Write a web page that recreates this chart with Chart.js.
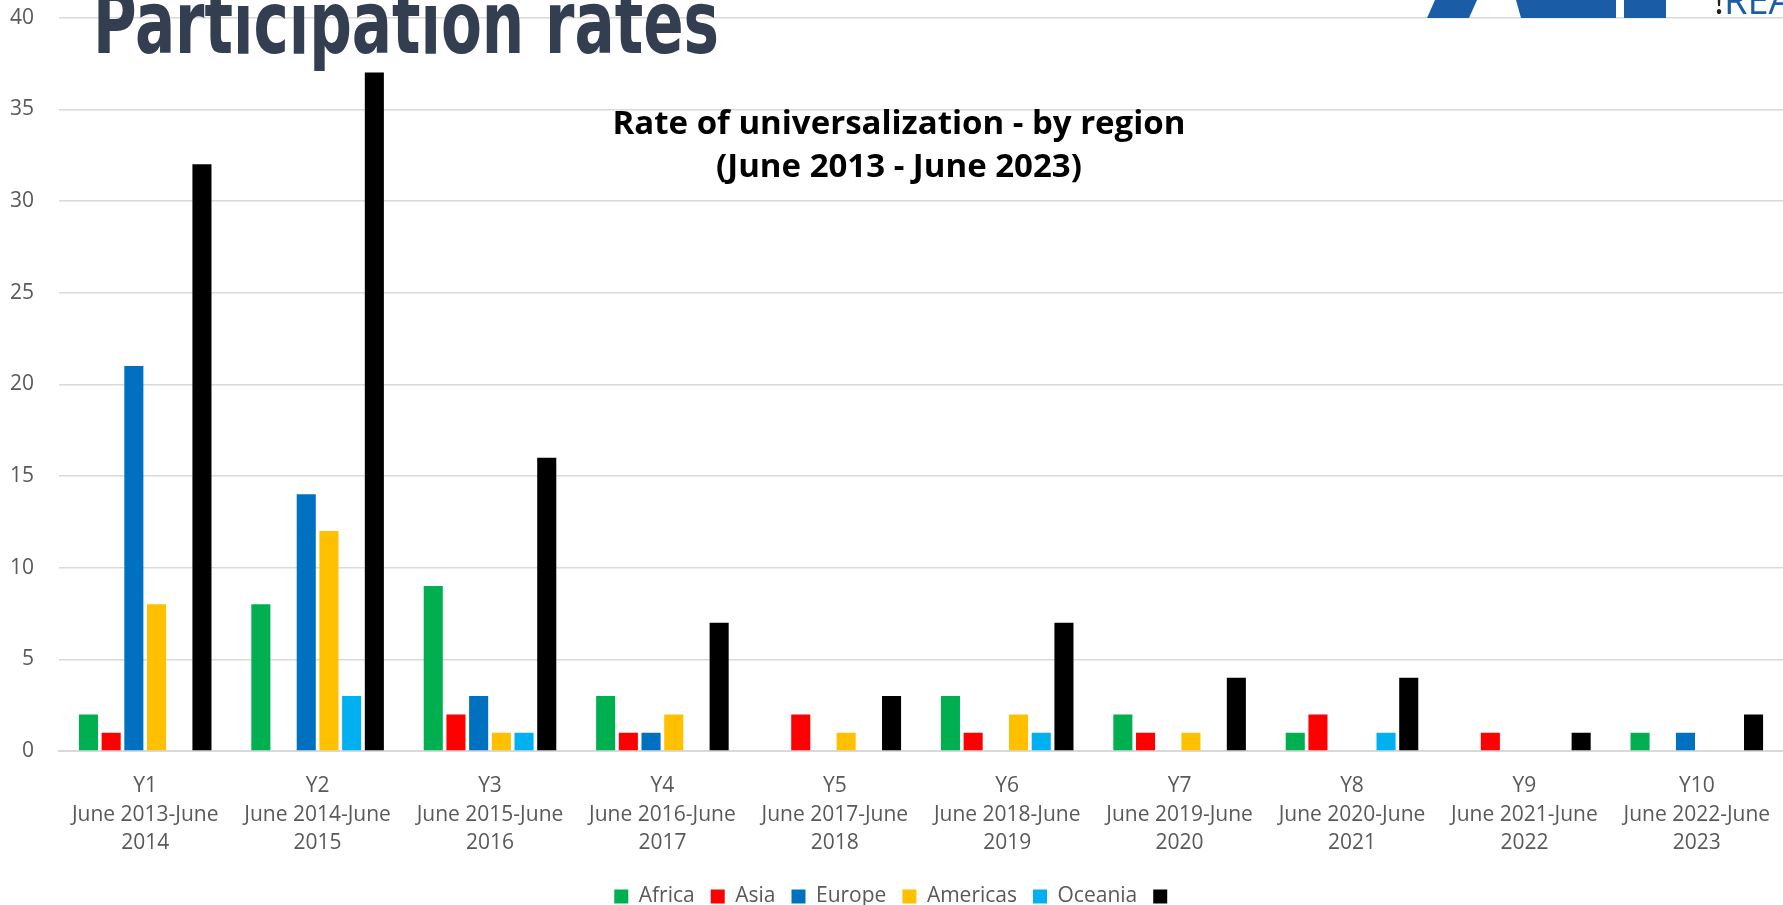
<!DOCTYPE html>
<html>
<head>
<meta charset="utf-8">
<script src="https://cdn.jsdelivr.net/npm/chart.js@4"></script>
<style>
  html, body { margin: 0; padding: 0; background: #ffffff; }
  #wrap { position: relative; width: 1783px; height: 905px; overflow: hidden; }
  #chart { position: absolute; left: 0; top: -20px; }
  #bigTitle {
    position: absolute; left: 93px; top: -26px;
    font-family: "Liberation Sans Narrow", "DejaVu Sans Condensed", sans-serif;
    font-weight: bold; font-size: 80px; line-height: 90px; color: #333f50;
    white-space: nowrap; transform-origin: 0 0;
  }
  #chartTitle {
    position: absolute; left: 499px; width: 800px; top: 100px;
    font-family: "Open Sans", sans-serif; font-weight: bold; font-size: 33px;
    line-height: 43px; text-align: center; color: #000000;
  }
  .logo { position: absolute; top: 0; height: 18px; background: #1a5da6; }
  #logoText {
    position: absolute; left: 1714px; top: -22px; font-family: "Open Sans", sans-serif;
    font-size: 38px; line-height: 42px; color: #1a5da6; white-space: nowrap;
  }
  #logoText b { color: #222; font-weight: normal; }
</style>
</head>
<body>
<div id="wrap">
  <canvas id="chart" width="1783" height="937"></canvas>
  <div class="logo" style="left:1427px;width:50px;clip-path:polygon(8px 0,50px 0,42px 100%,0 100%);"></div>
  <div class="logo" style="left:1516px;width:100px;clip-path:polygon(0 0,100% 0,100% 100%,5px 100%);"></div>
  <div class="logo" style="left:1624px;width:42px;"></div>
  <div id="logoText"><b>!</b>REA</div>
  <div id="bigTitle">Participation rates</div>
  <div id="chartTitle">Rate of universalization - by region<br>(June 2013 - June 2023)</div>
</div>
<script>
var categories = [
  ['Y1', 'June 2013-June', '2014'],
  ['Y2', 'June 2014-June', '2015'],
  ['Y3', 'June 2015-June', '2016'],
  ['Y4', 'June 2016-June', '2017'],
  ['Y5', 'June 2017-June', '2018'],
  ['Y6', 'June 2018-June', '2019'],
  ['Y7', 'June 2019-June', '2020'],
  ['Y8', 'June 2020-June', '2021'],
  ['Y9', 'June 2021-June', '2022'],
  ['Y10', 'June 2022-June', '2023']
];

var africa   = [2, 8, 9, 3, 0, 3, 2, 1, 0, 1];
var asia     = [1, 0, 2, 1, 2, 1, 1, 2, 1, 0];
var europe   = [21, 14, 3, 1, 0, 0, 0, 0, 0, 1];
var americas = [8, 12, 1, 2, 1, 2, 1, 0, 0, 0];
var oceania  = [0, 3, 1, 0, 0, 1, 0, 1, 0, 0];
var totals   = [32, 37, 16, 7, 3, 7, 4, 4, 1, 2];

var seriesNames = ['Africa', 'Asia', 'Europe', 'Americas', 'Oceania', ''];
var seriesColors = ['#00B050', '#FF0000', '#0070C0', '#FFC000', '#00B0F0', '#000000'];
var seriesValues = [africa, asia, europe, americas, oceania, totals];

var yTicks = { min: 0, max: 40, step: 5 };

// fit the big heading to the width it takes in the picture
var big = document.getElementById('bigTitle');
var targetWidth = 626;
big.style.transform = 'scale(' + (targetWidth / big.offsetWidth) + ', 1.1)';

var datasets = seriesValues.map(function (values, i) {
  return {
    label: seriesNames[i],
    data: values,
    backgroundColor: seriesColors[i],
    borderWidth: 0,
    categoryPercentage: 0.79,
    barPercentage: 0.84
  };
});

var textColor = '#595959';
var gridColor = '#d9d9d9';

new Chart(document.getElementById('chart').getContext('2d'), {
  type: 'bar',
  data: { labels: categories, datasets: datasets },
  options: {
    responsive: false,
    animation: false,
    devicePixelRatio: 1,
    layout: { padding: { left: 9, right: 0, top: 0, bottom: 0 } },
    plugins: {
      title: { display: false },
      tooltip: { enabled: false },
      legend: {
        position: 'bottom',
        labels: {
          boxWidth: 14,
          boxHeight: 14,
          padding: 16,
          color: textColor,
          font: { family: 'Open Sans', size: 21 }
        }
      }
    },
    scales: {
      x: {
        grid: { display: false },
        border: { display: true, color: gridColor, width: 2 },
        ticks: {
          color: textColor,
          padding: 12,
          maxRotation: 0,
          autoSkip: false,
          font: { family: 'Open Sans', size: 21, lineHeight: 1.38 }
        }
      },
      y: {
        min: yTicks.min,
        max: yTicks.max,
        afterFit: function (scale) { scale.width = 50; },
        grid: { color: gridColor, lineWidth: 1.5, drawTicks: false },
        border: { display: false },
        ticks: {
          stepSize: yTicks.step,
          padding: 25,
          color: textColor,
          font: { family: 'Open Sans', size: 21 }
        }
      }
    }
  }
});
</script>
</body>
</html>
